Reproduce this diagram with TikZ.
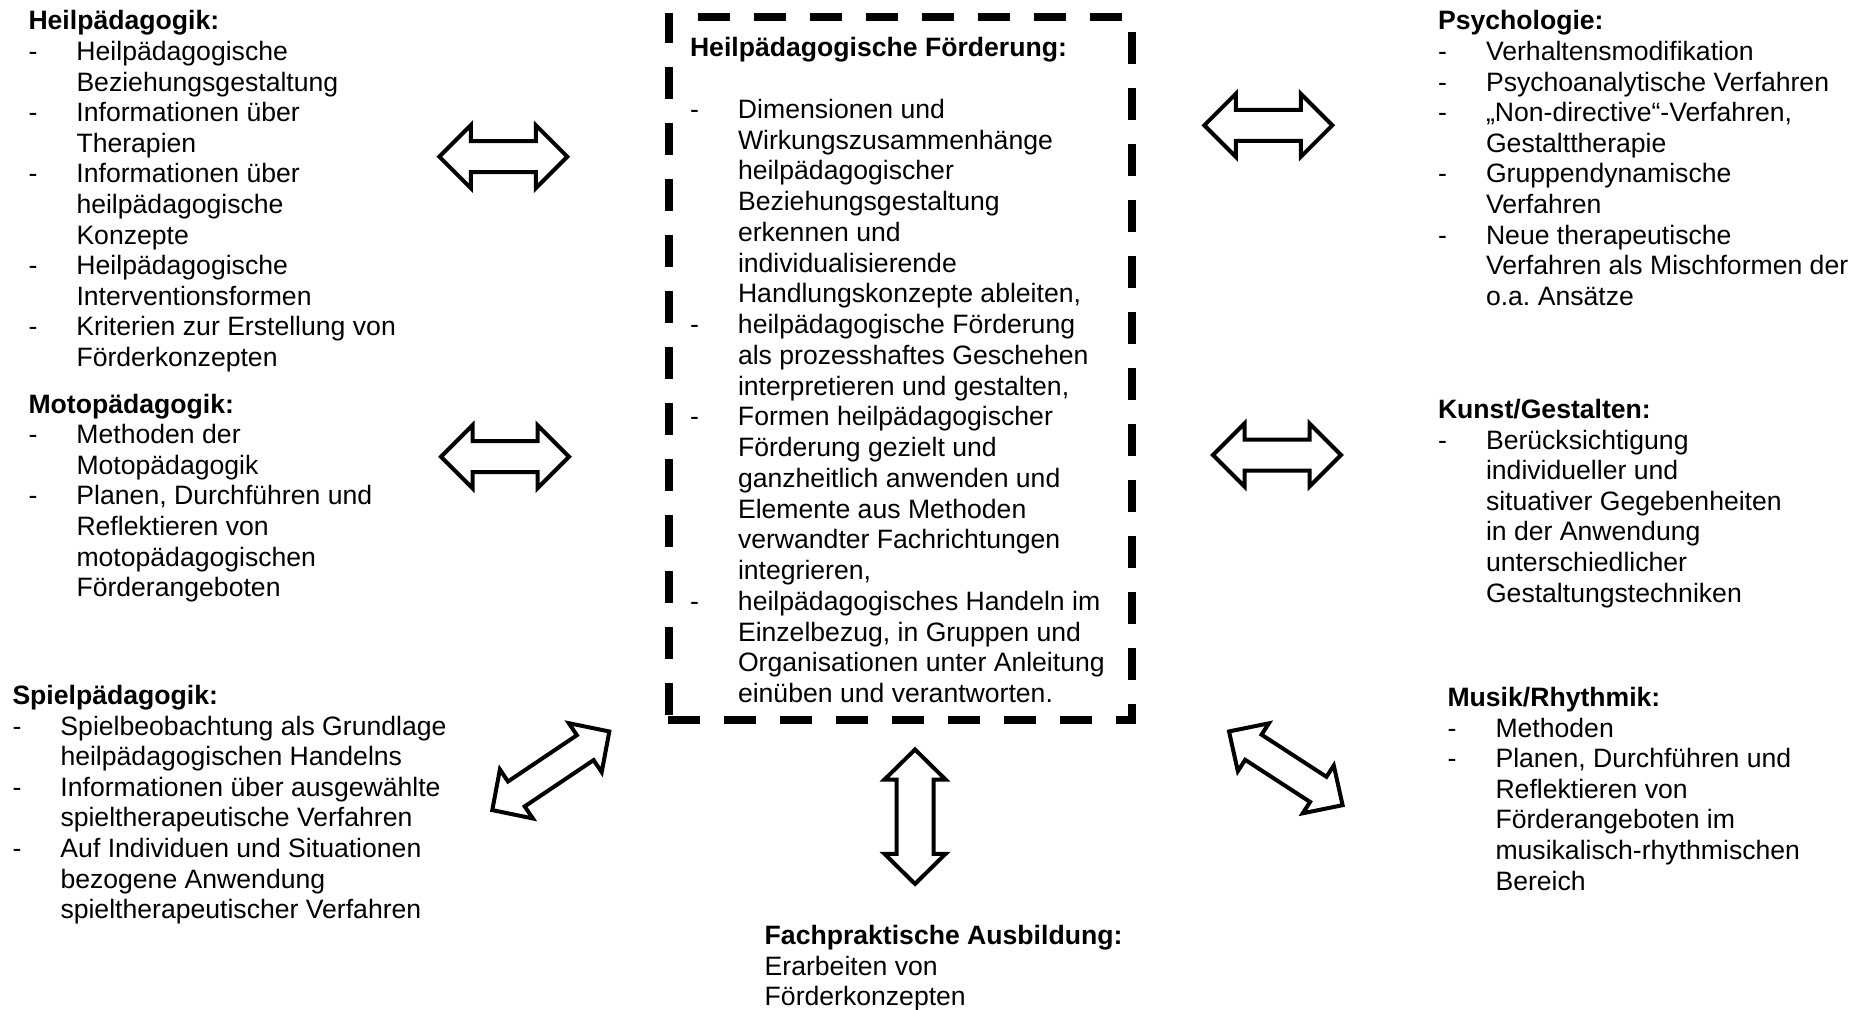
\documentclass[tikz,border=0pt]{standalone}
\usepackage{fontspec}
\setmainfont{Liberation Sans}
\frenchspacing
\newcommand{\DblArrow}[7]{%
  \begin{scope}[shift={(#1,#2)},rotate=#3]
    \draw[arrowline] (-#4,0) -- ({-#4+#7},#5) -- ({-#4+#7},#6) -- ({#4-#7},#6)
      -- ({#4-#7},#5) -- (#4,0) -- ({#4-#7},-#5) -- ({#4-#7},-#6)
      -- ({-#4+#7},-#6) -- ({-#4+#7},-#5) -- cycle;
  \end{scope}}
\newenvironment{blocktab}{\begin{tabular}[t]{@{}p{24pt}@{}l@{}}}{\end{tabular}}
\newcommand{\ttl}[1]{\multicolumn{2}{@{}l@{}}{\bfseries #1}}
\begin{document}
\begin{tikzpicture}[x=0.5pt,y=-0.5pt,
  txt/.style={anchor=base west, inner sep=0pt, outer sep=0pt, font=\fontsize{13.3pt}{15.3pt}\selectfont},
  txtc/.style={txt, font=\fontsize{13.3pt}{15.37pt}\selectfont},
  arrowline/.style={draw=black, fill=white, line width=2pt, line join=miter},
  boxdash/.style={draw=black, line width=4pt, dash pattern=on 16pt off 12pt, line cap=butt}]
\useasboundingbox (0,0) rectangle (1866,1010);

% dashed frame
\draw[boxdash, dash phase=1.25pt] (669,13.5) -- (669,724);
\draw[boxdash] (698,17.5) -- (1132,17.5);
\draw[boxdash] (1132,31.7) -- (1132,724);
\draw[boxdash] (668,720) -- (1136,720);

% text blocks
\node[txt] (heil) at (28.5,30) {\begin{blocktab}
\ttl{Heilpädagogik:}\\
- & Heilpädagogische\\
  & Beziehungsgestaltung\\
- & Informationen über\\
  & Therapien\\
- & Informationen über\\
  & heilpädagogische\\
  & Konzepte\\
- & Heilpädagogische\\
  & Interventionsformen\\
- & Kriterien zur Erstellung von\\
  & Förderkonzepten
\end{blocktab}};

\node[txt] (moto) at (28.5,413) {\begin{blocktab}
\ttl{Motopädagogik:}\\
- & Methoden der\\
  & Motopädagogik\\
- & Planen, Durchführen und\\
  & Reflektieren von\\
  & motopädagogischen\\
  & Förderangeboten
\end{blocktab}};

\node[txt] (spiel) at (12.5,704.5) {\begin{blocktab}
\ttl{Spielpädagogik:}\\
- & Spielbeobachtung als Grundlage\\
  & heilpädagogischen Handelns\\
- & Informationen über ausgewählte\\
  & spieltherapeutische Verfahren\\
- & Auf Individuen und Situationen\\
  & bezogene Anwendung\\
  & spieltherapeutischer Verfahren
\end{blocktab}};

\node[txtc] (foerd) at (690,57) {\begin{blocktab}
\ttl{Heilpädagogische Förderung:}\\
\\
- & Dimensionen und\\
  & Wirkungszusammenhänge\\
  & heilpädagogischer\\
  & Beziehungsgestaltung\\
  & erkennen und\\
  & individualisierende\\
  & Handlungskonzepte ableiten,\\
- & heilpädagogische Förderung\\
  & als prozesshaftes Geschehen\\
  & interpretieren und gestalten,\\
- & Formen heilpädagogischer\\
  & Förderung gezielt und\\
  & ganzheitlich anwenden und\\
  & Elemente aus Methoden\\
  & verwandter Fachrichtungen\\
  & integrieren,\\
- & heilpädagogisches Handeln im\\
  & Einzelbezug, in Gruppen und\\
  & Organisationen unter Anleitung\\
  & einüben und verantworten.
\end{blocktab}};

\node[txt] (psych) at (1438,30) {\begin{blocktab}
\ttl{Psychologie:}\\
- & Verhaltensmodifikation\\
- & Psychoanalytische Verfahren\\
- & „Non-directive“-Verfahren,\\
  & Gestalttherapie\\
- & Gruppendynamische\\
  & Verfahren\\
- & Neue therapeutische\\
  & Verfahren als Mischformen der\\
  & o.a. Ansätze
\end{blocktab}};

\node[txt] (kunst) at (1438,418.5) {\begin{blocktab}
\ttl{Kunst/Gestalten:}\\
- & Berücksichtigung\\
  & individueller und\\
  & situativer Gegebenheiten\\
  & in der Anwendung\\
  & unterschiedlicher\\
  & Gestaltungstechniken
\end{blocktab}};

\node[txt] (musik) at (1447.5,706.5) {\begin{blocktab}
\ttl{Musik/Rhythmik:}\\
- & Methoden\\
- & Planen, Durchführen und\\
  & Reflektieren von\\
  & Förderangeboten im\\
  & musikalisch-rhythmischen\\
  & Bereich
\end{blocktab}};

\node[txt] (fach) at (764.7,944.5) {\begin{tabular}[t]{@{}l@{}}
\bfseries Fachpraktische Ausbildung:\\
Erarbeiten von\\
Förderkonzepten
\end{tabular}};

% double arrows
\DblArrow{503.3}{156.7}{0}{64}{31.5}{15.5}{31.5}
\DblArrow{505}{456.7}{0}{64}{31.5}{15.5}{31.5}
\DblArrow{1268.3}{125.3}{0}{64}{31.5}{15.5}{31.5}
\DblArrow{1277}{455}{0}{64}{31.5}{15.5}{31.5}
\DblArrow{550.8}{770.8}{33.9}{70.5}{29.5}{15}{29}
\DblArrow{915}{816.7}{90}{67.2}{30.5}{18.5}{30}
\DblArrow{1285.8}{768.3}{-33}{67.7}{28.5}{15}{29}
\end{tikzpicture}
\end{document}
